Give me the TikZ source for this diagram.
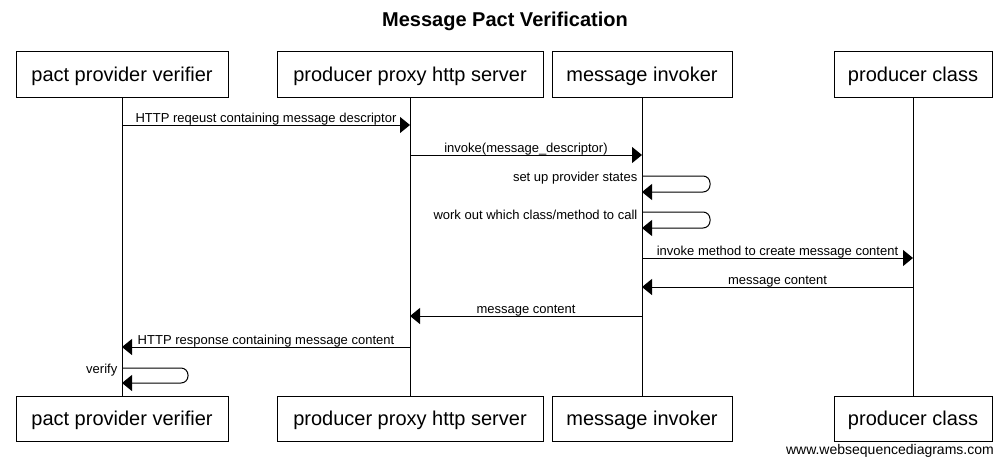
\documentclass[tikz,border=0pt]{standalone}
\usepackage{fontspec}
\setmainfont{Liberation Sans}
\usetikzlibrary{arrows.meta}
\begin{document}
\begin{tikzpicture}[x=1pt,y=-1pt,
  actor/.style={draw, line width=1pt, minimum height=46pt, inner sep=0pt, text height=18pt, text depth=4pt, font=\fontsize{20}{24}\selectfont},
  lifeline/.style={line width=1pt},
  msg/.style={line width=1pt, -{Triangle[length=10pt,width=16pt]}},
  selfmsg/.style={msg, rounded corners=7pt},
  lbl/.style={font=\fontsize{13}{15}\selectfont, inner sep=0.5pt},
  toplbl/.style={lbl, midway, above, yshift=-1.5pt}]
\useasboundingbox (0,0) rectangle (1008,466);
\node[font=\bfseries\fontsize{20}{24}\selectfont] (title) at (505,21) {Message Pact Verification};
% top actors
\node[actor, minimum width=212pt] (pa) at (122,74) {pact provider verifier};
\node[actor, minimum width=266pt] (pp) at (410,74) {producer proxy http server};
\node[actor, minimum width=180pt] (pm) at (642,74) {message invoker};
\node[actor, minimum width=158pt] (pc) at (913,74) {producer class};
% bottom actors
\node[actor, minimum width=212pt, minimum height=45pt] (pa2) at (122,418.5) {pact provider verifier};
\node[actor, minimum width=266pt, minimum height=45pt] (pp2) at (410,418.5) {producer proxy http server};
\node[actor, minimum width=180pt, minimum height=45pt] (pm2) at (642,418.5) {message invoker};
\node[actor, minimum width=158pt, minimum height=45pt] (pc2) at (913,418.5) {producer class};
% lifelines
\draw[lifeline] (pa.south) -- (pa2.north);
\draw[lifeline] (pp.south) -- (pp2.north);
\draw[lifeline] (pm.south) -- (pm2.north);
\draw[lifeline] (pc.south) -- (pc2.north);
% message rows
\coordinate (y1) at (0,125);
\coordinate (y2) at (0,155);
\coordinate (y3) at (0,176);
\coordinate (y3b) at (0,192);
\coordinate (y4) at (0,212);
\coordinate (y4b) at (0,228);
\coordinate (y5) at (0,258);
\coordinate (y6) at (0,287);
\coordinate (y7) at (0,316);
\coordinate (y8) at (0,347);
\coordinate (y9) at (0,368);
\coordinate (y9b) at (0,383);
\draw[msg] (pa.south |- y1) -- (pp.south |- y1) node[toplbl] {HTTP reqeust containing message descriptor};
\draw[msg] (pp.south |- y2) -- (pm.south |- y2) node[toplbl] {invoke(message\_descriptor)};
\draw[selfmsg] (pm.south |- y3) -- ++(68,0) |- (pm.south |- y3b);
\node[lbl, anchor=east] (l3) at ([xshift=-4pt, yshift=-2.5pt]pm.south |- y3) {set up provider states};
\draw[selfmsg] (pm.south |- y4) -- ++(68,0) |- (pm.south |- y4b);
\node[lbl, anchor=east] (l4) at ([xshift=-4pt, yshift=-2.5pt]pm.south |- y4) {work out which class/method to call};
\draw[msg] (pm.south |- y5) -- (pc.south |- y5) node[toplbl] {invoke method to create message content};
\draw[msg] (pc.south |- y6) -- (pm.south |- y6) node[toplbl] {message content};
\draw[msg] (pm.south |- y7) -- (pp.south |- y7) node[toplbl] {message content};
\draw[msg] (pp.south |- y8) -- (pa.south |- y8) node[toplbl] {HTTP response containing message content};
\draw[selfmsg] (pa.south |- y9) -- ++(66,0) |- (pa.south |- y9b);
\node[lbl, anchor=east] (l9) at ([xshift=-4pt, yshift=-2pt]pa.south |- y9) {verify};
\node[font=\fontsize{14}{16}\selectfont, anchor=east, inner sep=0pt] (footer) at (994,451) {www.websequencediagrams.com};
\end{tikzpicture}
\end{document}
